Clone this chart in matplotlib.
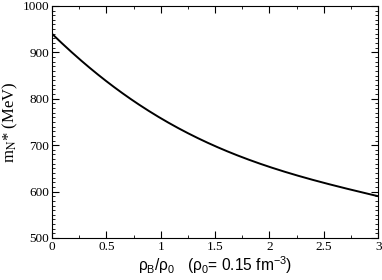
import numpy as np
import matplotlib
matplotlib.use('Agg')
import matplotlib.pyplot as plt
from matplotlib.ticker import MultipleLocator

# density ratio rho_B/rho_0 and effective nucleon mass (MeV)
rho = [0.0, 0.25, 0.5, 0.75, 1.0, 1.25, 1.5, 1.75, 2.0, 2.25, 2.5, 2.75, 3.0]
mass = [940, 886, 838, 795, 758, 726, 698, 674, 653, 635, 619, 604, 590]

xticks = [0, 0.5, 1, 1.5, 2, 2.5, 3]
xticklabels = ['0', '0.5', '1', '1.5', '2', '2.5', '3']
yticks = [500, 600, 700, 800, 900, 1000]

plt.rcParams['mathtext.fontset'] = 'custom'
plt.rcParams['mathtext.rm'] = 'Liberation Sans'
plt.rcParams['mathtext.it'] = 'Liberation Sans:italic'

fig = plt.figure(figsize=(3.82, 2.8), dpi=100)
ax = fig.add_axes([0.136, 0.15, 0.854, 0.829])

# smooth the sampled curve a bit for drawing
xs = np.linspace(rho[0], rho[-1], 200)
coef = np.polyfit(rho, mass, 5)
ax.plot(xs, np.polyval(coef, xs), color='black', lw=1.4)

ax.set_xlim(0, 3)
ax.set_ylim(500, 1000)
ax.set_xticks(xticks)
ax.set_xticklabels(xticklabels)
ax.set_yticks(yticks)
ax.xaxis.set_minor_locator(MultipleLocator(0.25))
ax.yaxis.set_minor_locator(MultipleLocator(10))
ax.tick_params(which='both', direction='in', top=True, right=True, labelsize=9.5, pad=2)
ax.tick_params(which='major', length=5, width=0.8)
ax.tick_params(which='minor', length=2.5, width=0.6)
for lab in ax.get_xticklabels() + ax.get_yticklabels():
    lab.set_family('Liberation Serif')

ax.set_xlabel('ρ$_\\mathrm{B}$/ρ$_\\mathrm{0}$   (ρ$_\\mathrm{0}$= 0.15 fm$^{-3}$)',
              family='Liberation Sans', fontsize=11.2, labelpad=1)
ax.set_ylabel('m$_\\mathrm{N}$* (MeV)', family='Liberation Serif', math_fontfamily='stix',
              fontsize=12, labelpad=2)

fig.savefig('out.png', dpi=100)
